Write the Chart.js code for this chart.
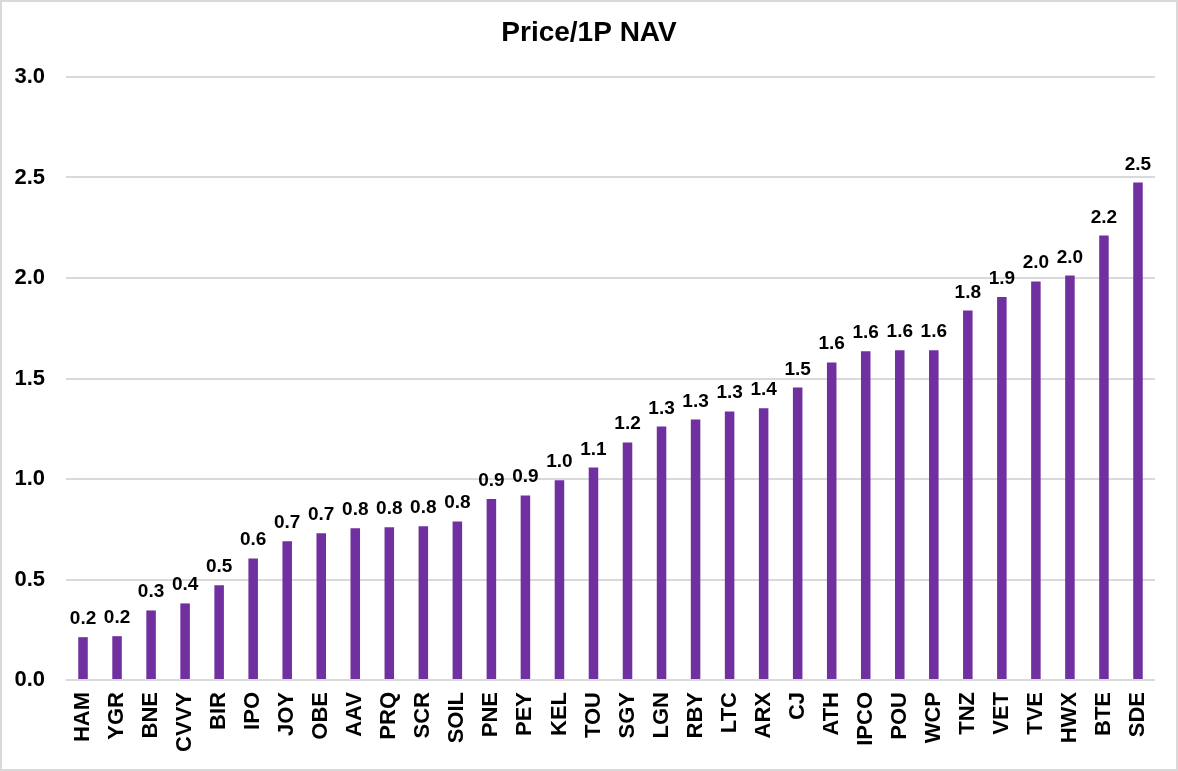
<!DOCTYPE html>
<html>
<head>
<meta charset="utf-8">
<script src="https://cdn.jsdelivr.net/npm/chart.js@4"></script>
<style>
  body { margin: 0; background: #fff; }
  #wrap { width: 1178px; height: 771px; position: relative; }
</style>
</head>
<body>
<div id="wrap"><canvas id="myChart"></canvas></div>
<script>
// categories and values
const tickers = ['HAM', 'YGR', 'BNE', 'CVVY', 'BIR', 'IPO', 'JOY', 'OBE', 'AAV', 'PRQ', 'SCR', 'SOIL',
    'PNE', 'PEY', 'KEL', 'TOU', 'SGY', 'LGN', 'RBY', 'LTC', 'ARX', 'CJ', 'ATH', 'IPCO', 'POU', 'WCP',
    'TNZ', 'VET', 'TVE', 'HWX', 'BTE', 'SDE'];
const priceToNav = [0.213, 0.218, 0.346, 0.381, 0.472, 0.605, 0.69, 0.73, 0.755, 0.76, 0.765, 0.789,
    0.900, 0.918, 0.994, 1.057, 1.182, 1.261, 1.296, 1.336, 1.352, 1.455, 1.58, 1.635, 1.64, 1.64,
    1.838, 1.905, 1.983, 2.012, 2.211, 2.475];
const yTicks = [0, 0.5, 1.0, 1.5, 2.0, 2.5, 3.0];
const chartTitle = 'Price/1P NAV';

const FONT = 'Arial, "Liberation Sans", sans-serif';

// value labels above bars
const barLabels = {
    id: 'barLabels',
    afterDatasetsDraw(chart) {
        const c = chart.ctx;
        const meta = chart.getDatasetMeta(0);
        c.save();
        c.font = 'bold 19px ' + FONT;
        c.fillStyle = '#000';
        c.textAlign = 'center';
        c.textBaseline = 'alphabetic';
        meta.data.forEach((bar, i) => {
            c.fillText(priceToNav[i].toFixed(1), bar.x, bar.y - 13);
        });
        c.restore();
    }
};

// outer frame + title centred on the whole canvas
const frame = {
    id: 'frame',
    beforeDraw(chart) {
        const c = chart.ctx;
        c.save();
        c.fillStyle = '#fff';
        c.fillRect(0, 0, chart.width, chart.height);
        c.strokeStyle = '#d9d9d9';
        c.lineWidth = 2;
        c.strokeRect(1, 1, chart.width - 2, chart.height - 2);
        c.restore();
    },
    afterDraw(chart) {
        const c = chart.ctx;
        c.save();
        c.font = 'bold 28px ' + FONT;
        c.fillStyle = '#000';
        c.textAlign = 'center';
        c.textBaseline = 'middle';
        c.fillText(chartTitle, chart.width / 2, 33);
        c.restore();
    }
};

const ctx = document.getElementById('myChart');

new Chart(ctx, {
    type: 'bar',
    data: {
        labels: tickers,
        datasets: [{
            data: priceToNav,
            backgroundColor: '#7030a0',
            barPercentage: 0.28,
            categoryPercentage: 1.0
        }]
    },
    options: {
        responsive: true,
        maintainAspectRatio: false,
        animation: false,
        layout: { padding: { left: 10, right: 23, top: 77, bottom: 0 } },
        plugins: {
            legend: { display: false },
            tooltip: { enabled: false },
            title: { display: false }
        },
        scales: {
            x: {
                afterFit(scale) { scale.height = 91; },
                grid: { display: false },
                border: { display: false },
                ticks: {
                    color: '#000',
                    font: { family: FONT, size: 22, weight: 'bold' },
                    minRotation: 90,
                    maxRotation: 90,
                    autoSkip: false,
                    padding: 4
                }
            },
            y: {
                min: 0,
                max: 3,
                afterFit(scale) { scale.width = 56; },
                afterBuildTicks(scale) { scale.ticks = yTicks.map(v => ({ value: v })); },
                grid: { color: '#d9d9d9', lineWidth: 2, drawTicks: false },
                border: { display: false },
                ticks: {
                    color: '#000',
                    font: { family: FONT, size: 22, weight: 'bold' },
                    padding: 21,
                    callback: v => v.toFixed(1)
                }
            }
        }
    },
    plugins: [frame, barLabels]
});
</script>
</body>
</html>
